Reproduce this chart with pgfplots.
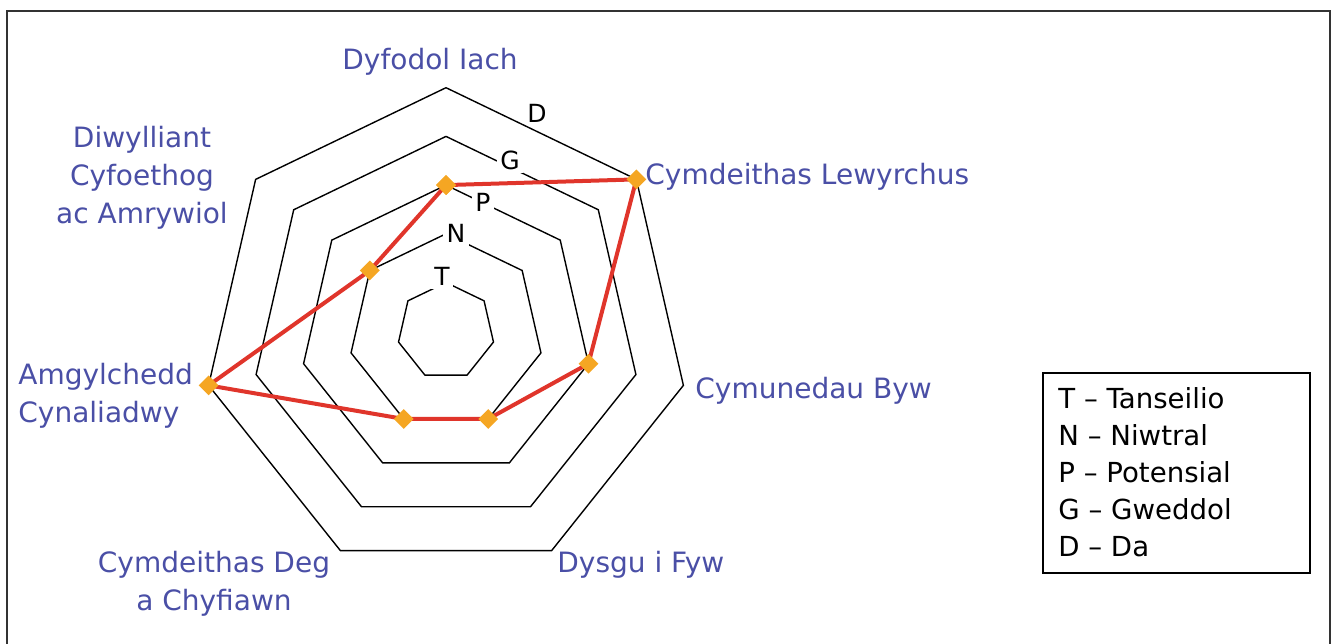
\documentclass[border=0pt]{standalone}
\usepackage{pgfplots}
\pgfplotsset{compat=1.18}
\usepackage{fontspec}
\setmainfont{DejaVu Sans}
\definecolor{lblblue}{HTML}{4A4FA6}
\definecolor{linered}{HTML}{E0352B}
\definecolor{mkorange}{HTML}{F5A623}
\definecolor{frame}{HTML}{333333}
\pgfplotsset{radarax/.style={anchor=origin, at={(223pt,155.9pt)}, x=24.35pt, y=24.35pt,
  hide axis, clip=false, xmin=-5, xmax=5, ymin=-5, ymax=5, data cs=polar}}
\begin{document}
\begin{tikzpicture}
\path[use as bounding box] (0,0) rectangle (668pt,321.5pt);
\draw[frame, line width=1pt] (3.5pt,-2pt) -- (3.5pt,316pt) -- (665pt,316pt) -- (665pt,-2pt);
\begin{axis}[radarax]
\addplot[black, line width=0.7pt, mark=none] coordinates {(90,1) (38.5714,1) (-12.8571,1) (-64.2857,1) (-115.7143,1) (-167.1429,1) (141.4286,1) (90,1)};
\addplot[black, line width=0.7pt, mark=none] coordinates {(90,2) (38.5714,2) (-12.8571,2) (-64.2857,2) (-115.7143,2) (-167.1429,2) (141.4286,2) (90,2)};
\addplot[black, line width=0.7pt, mark=none] coordinates {(90,3) (38.5714,3) (-12.8571,3) (-64.2857,3) (-115.7143,3) (-167.1429,3) (141.4286,3) (90,3)};
\addplot[black, line width=0.7pt, mark=none] coordinates {(90,4) (38.5714,4) (-12.8571,4) (-64.2857,4) (-115.7143,4) (-167.1429,4) (141.4286,4) (90,4)};
\addplot[black, line width=0.7pt, mark=none] coordinates {(90,5) (38.5714,5) (-12.8571,5) (-64.2857,5) (-115.7143,5) (-167.1429,5) (141.4286,5) (90,5)};
\end{axis}
\begin{scope}[every node/.style={font=\fontsize{12.5}{14}\selectfont, fill=white, inner sep=1.8pt}]
\node at (221pt,183.5pt) {T};
\node at (228pt,205pt) {N};
\node at (241.5pt,220.5pt) {P};
\node at (255pt,241.5pt) {G};
\node[fill=none] at (268.5pt,265pt) {D};
\end{scope}
\begin{axis}[radarax]
\addplot[linered, line width=2pt, mark=square*, mark size=2.5pt, mark options={mkorange, rotate=45, draw=none, fill=mkorange}] coordinates {(90,3) (38.5714,5) (-12.8571,3) (-64.2857,2) (-115.7143,2) (-167.1429,5) (141.4286,2) (90,3)};
\end{axis}
\begin{scope}[every node/.style={font=\fontsize{14}{19}\selectfont, text=lblblue, inner sep=0pt}]
\node at (215pt,290.5pt) {Dyfodol Iach};
\node[anchor=west] at (322.5pt,233pt) {Cymdeithas Lewyrchus};
\node[anchor=west] at (347.5pt,126pt) {Cymunedau Byw};
\node[anchor=west] at (278.5pt,39pt) {Dysgu i Fyw};
\node[align=center] at (107pt,29.5pt) {Cymdeithas Deg\\a Chyfiawn};
\node[align=center] at (71pt,232.5pt) {Diwylliant\\Cyfoethog\\ac Amrywiol};
\node[anchor=west, align=left] at (9pt,123.5pt) {Amgylchedd\\Cynaliadwy};
\end{scope}
\draw[black, line width=0.7pt] (521.5pt,35pt) rectangle (655pt,135pt);
\node[anchor=west, align=left, font=\fontsize{13.8}{18.5}\selectfont, inner sep=0pt] at (529pt,85.5pt) {T -- Tanseilio\\N -- Niwtral\\P -- Potensial\\G -- Gweddol\\D -- Da};
\end{tikzpicture}
\end{document}
